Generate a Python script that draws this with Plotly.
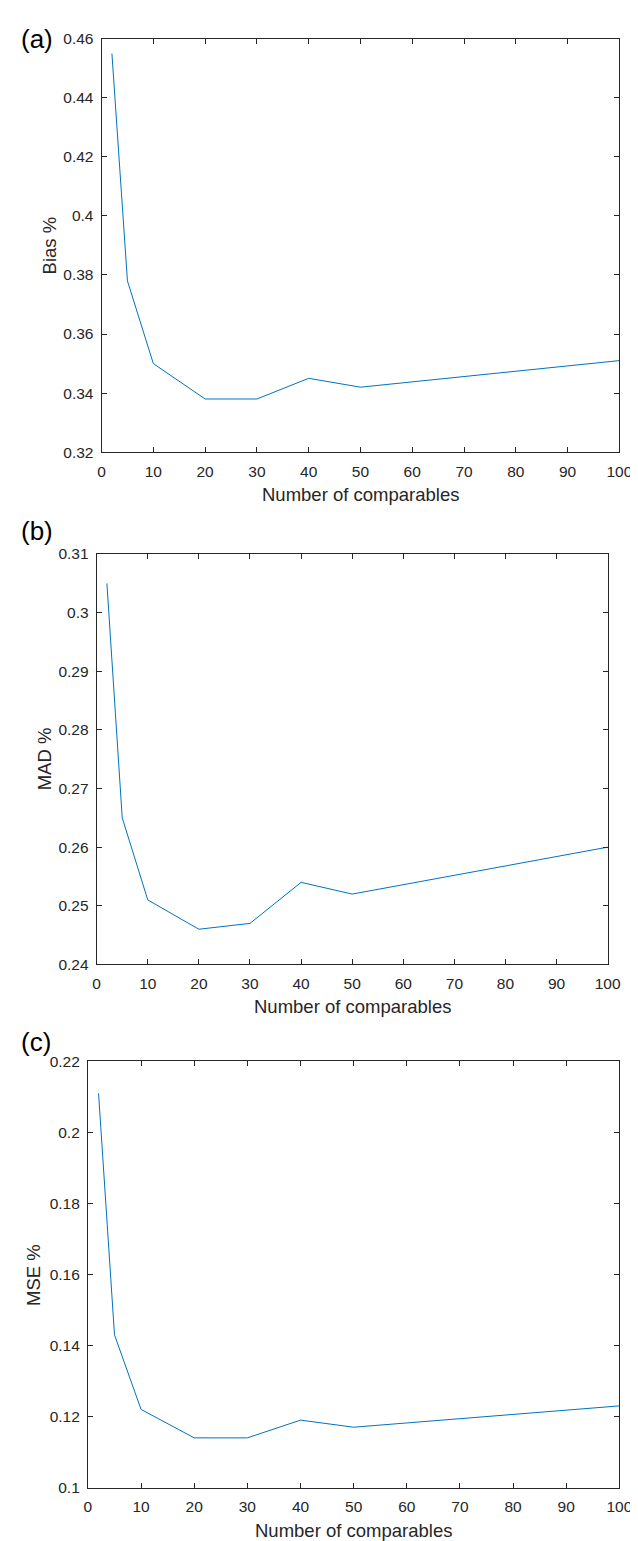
import plotly.graph_objects as go

# Data
n_comparables = [2, 5, 10, 20, 30, 40, 50, 100]
bias_pct = [0.455, 0.378, 0.350, 0.338, 0.338, 0.345, 0.342, 0.351]
mad_pct = [0.305, 0.265, 0.251, 0.246, 0.247, 0.254, 0.252, 0.260]
mse_pct = [0.211, 0.143, 0.122, 0.114, 0.114, 0.119, 0.117, 0.123]

panel_labels = ["(a)", "(b)", "(c)"]
y_titles = ["Bias %", "MAD %", "MSE %"]
x_title = "Number of comparables"

W, H = 638, 1541
FONT = "Liberation Sans, Arial, Helvetica, sans-serif"
AX = "#262626"
LINE = "#0072BD"

# pixel boxes: (left, right, top, bottom)
boxes = [(92, 624, 22, 440), (87, 612, 543, 958), (78, 624, 1056, 1487)]
yranges = [[0.32, 0.46], [0.24, 0.31], [0.10, 0.22]]
ydticks = [0.02, 0.01, 0.02]
series = [bias_pct, mad_pct, mse_pct]
ytitle_x = [38, 33, 22]

fig = go.Figure()
annotations = []
layout = {}
for i in range(3):
    l, r, t, b = boxes[i]
    xa = "x" if i == 0 else f"x{i+1}"
    ya = "y" if i == 0 else f"y{i+1}"
    fig.add_trace(go.Scatter(x=n_comparables, y=series[i], mode="lines",
                             line=dict(color=LINE, width=1),
                             xaxis=xa, yaxis=ya, showlegend=False,
                             hoverinfo="x+y"))
    common = dict(showline=True, linecolor=AX, linewidth=1, mirror="ticks",
                  ticks="inside", ticklen=5, tickwidth=1, tickcolor=AX,
                  showgrid=False, zeroline=False,
                  tickfont=dict(family=FONT, size=15.5, color=AX))
    layout["xaxis" if i == 0 else f"xaxis{i+1}"] = dict(
        domain=[l / W, r / W], anchor=ya, range=[0, 100], dtick=10, tick0=0,
        ticklabelstandoff=5, **common)
    layout["yaxis" if i == 0 else f"yaxis{i+1}"] = dict(
        domain=[1 - b / H, 1 - t / H], anchor=xa, range=yranges[i],
        dtick=ydticks[i], tick0=0, ticklabelstandoff=4, **common)
    # x title
    annotations.append(dict(text=x_title, x=(l + r) / 2 / W, y=1 - (b + 43) / H,
                            xref="paper", yref="paper", showarrow=False,
                            xanchor="center", yanchor="middle",
                            font=dict(family=FONT, size=18.5, color=AX)))
    # y title
    annotations.append(dict(text=y_titles[i], x=ytitle_x[i] / W, y=1 - (t + b) / 2 / H,
                            xref="paper", yref="paper", showarrow=False,
                            textangle=-90, xanchor="center", yanchor="middle",
                            font=dict(family=FONT, size=18.5, color=AX)))
    # panel label
    py = [22, 520, 1036][i]
    annotations.append(dict(text=panel_labels[i], x=7 / W, y=1 - py / H,
                            xref="paper", yref="paper", showarrow=False,
                            xanchor="left", yanchor="middle",
                            font=dict(family=FONT, size=26, color="black")))

fig.update_layout(width=W, height=H, margin=dict(l=0, r=0, t=0, b=0),
                  paper_bgcolor="white", plot_bgcolor="white",
                  annotations=annotations, **layout)
fig.write_html("out.html")
